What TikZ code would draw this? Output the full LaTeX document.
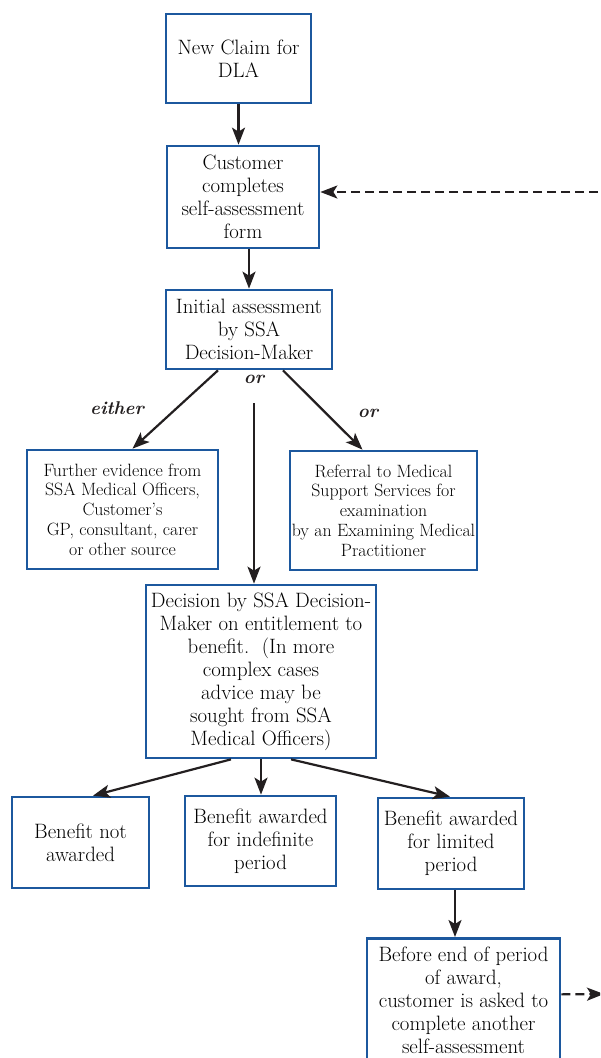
\documentclass[tikz,border=0pt]{standalone}
\usepackage{xcolor}
\usepackage{tikz}
\usetikzlibrary{arrows.meta, positioning}
\definecolor{boxblue}{RGB}{28,88,158}
\definecolor{inkgray}{RGB}{35,31,32}
\tikzset{
    stage/.style={
        rectangle,
        draw=boxblue,
        line width=2.7pt,
        fill=white,
        align=center,
        inner sep=1pt,
        font=\fontsize{20.8}{23}\selectfont
    },
    smallstage/.style={
        stage,
        font=\fontsize{17.8}{19.7}\selectfont
    },
    flow/.style={
        draw=inkgray,
        line width=2.2pt,
        -{Stealth[length=17pt,width=13pt,inset=4pt]}
    },
    loopflow/.style={
        flow,
        dash pattern=on 9pt off 5pt
    },
    choice/.style={
        font=\fontsize{18.5}{23}\selectfont\bfseries\itshape,
        text=inkgray,
        inner sep=0pt
    }
}

\begin{document}
\begin{tikzpicture}[x=1pt, y=-1pt]

\clip (0,0) rectangle (600,1058);

% Claim and self-assessment
\node[stage, minimum width=145pt, minimum height=89pt] (claim) at (238.5,58.5) {New Claim for\\DLA};
\node[stage, minimum width=152pt, minimum height=102pt] (form) at (243,197) {Customer\\completes\\self-assessment\\form};
\node[stage, minimum width=166pt, minimum height=79pt] (assess) at (249,329.5) {Initial assessment\\by SSA\\Decision-Maker};

\draw[flow] (claim.south) -- (claim.south |- form.north);
\draw[flow] (assess.north |- form.south) -- (assess.north);

% Evidence routes
\node[smallstage, minimum width=191pt, minimum height=119pt] (further) at (122.5,509.5) {Further evidence from\\SSA Medical Officers,\\Customer's\\GP, consultant, carer\\or other source};
\node[smallstage, minimum width=187pt, minimum height=119pt] (referral) at (383.5,510.5) {Referral to Medical\\Support Services for\\examination\\by an Examining Medical\\Practitioner};

\node[choice] (ormid) at (254,379) {or};
\node[choice] (either) at (117,408) {either};
\node[choice] (orright) at (368,413) {or};

\draw[flow] ([xshift=-31pt]assess.south) -- ([xshift=10pt]further.north);
\draw[flow] ([xshift=34pt]assess.south) -- ([xshift=-21pt]referral.north);

% Decision
\node[stage, minimum width=230pt, minimum height=173pt] (decision) at (261,671.5) {Decision by SSA Decision-\\Maker on entitlement to\\benefit.\ \ (In more\\complex cases\\advice may be\\sought from SSA\\Medical Officers)};

\coordinate (split) at (254,403);
\draw[flow] (split) -- (split |- decision.north);

% Outcomes
\node[stage, minimum width=137pt, minimum height=91pt] (refused) at (80.5,842.5) {Benefit not\\awarded};
\node[stage, minimum width=151pt, minimum height=90pt] (indef) at (260.5,841) {Benefit awarded\\for indefinite\\period};
\node[stage, minimum width=146pt, minimum height=91pt] (limited) at (451,843.5) {Benefit awarded\\for limited\\period};

\draw[flow] ([xshift=-30pt]decision.south) -- ([xshift=12.5pt]refused.north);
\draw[flow] (decision.south) -- (decision.south |- indef.north);
\draw[flow] ([xshift=30pt]decision.south) -- ([xshift=-1pt]limited.north);

% Renewal
\node[stage, anchor=north, minimum width=193pt, minimum height=124pt] (renew) at (463.5,937) {Before end of period\\of award,\\customer is asked to\\complete another\\self-assessment};

\draw[flow] ([xshift=4pt]limited.south) -- ([xshift=4pt]limited.south |- renew.north);

\coordinate (renewout) at (604,994);
\coordinate (loopin) at (612,192);
\draw[loopflow] ([yshift=6pt]renew.east) -- (renewout);
\draw[loopflow] (loopin) -- ([yshift=5pt]form.east);

\end{tikzpicture}
\end{document}
